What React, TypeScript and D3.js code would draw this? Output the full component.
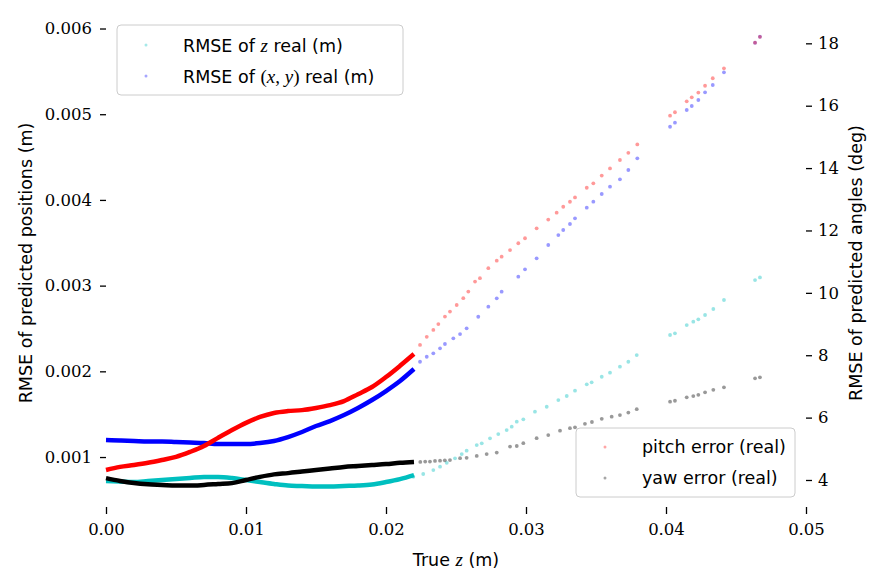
import React, { useEffect, useRef } from "react";
import * as d3 from "d3";

// dense part of the curves (x = true z in m)
const denseZ = [
  0, 0.001, 0.002, 0.003, 0.004, 0.005, 0.006, 0.007, 0.008, 0.009, 0.01, 0.011,
  0.012, 0.013, 0.014, 0.015, 0.016, 0.017, 0.018, 0.019, 0.02, 0.021, 0.022,
];
const denseZRmse = [
  0.00072, 0.000714, 0.000708, 0.00072, 0.000732, 0.000743, 0.000755, 0.000767,
  0.000767, 0.000755, 0.000732, 0.000708, 0.000685, 0.000667, 0.000662, 0.000656,
  0.000656, 0.000662, 0.000667, 0.000679, 0.000708, 0.000743, 0.00079,
];
const denseXyRmse = [
  0.001198, 0.001193, 0.001187, 0.001181, 0.001181, 0.001175, 0.001169, 0.001163,
  0.001152, 0.001152, 0.001152, 0.001163, 0.001187, 0.001233, 0.001292, 0.001362,
  0.00142, 0.00149, 0.001572, 0.001665, 0.00177, 0.001887, 0.002027,
];
const densePitch = [
  4.32, 4.42, 4.48, 4.55, 4.64, 4.74, 4.9, 5.09, 5.35, 5.6, 5.83, 6.02, 6.15, 6.21,
  6.24, 6.31, 6.4, 6.53, 6.75, 6.98, 7.3, 7.66, 8.04,
];
const denseYaw = [
  4.06, 3.97, 3.9, 3.86, 3.84, 3.82, 3.82, 3.84, 3.87, 3.9, 4.0, 4.1, 4.18, 4.22,
  4.27, 4.32, 4.37, 4.42, 4.45, 4.48, 4.51, 4.55, 4.58,
];

// sparse scatter points
const zRmseX = [
  0.02195, 0.02266, 0.02338, 0.02386, 0.02434, 0.02493, 0.02541, 0.02576, 0.02648,
  0.02684, 0.02743, 0.02802, 0.02862, 0.02898, 0.02934, 0.02981, 0.03064, 0.03148,
  0.03231, 0.03291, 0.0335, 0.03434, 0.03469, 0.03541, 0.036, 0.03671, 0.03731,
  0.03791, 0.04029, 0.04064, 0.04148, 0.04195, 0.04231, 0.04279, 0.04338, 0.04414,
  0.04636, 0.04671,
];
const zRmseY = [
  0.00077, 0.000802, 0.000848, 0.000887, 0.000933, 0.000985, 0.001035, 0.001074,
  0.00114, 0.00116, 0.001218, 0.001268, 0.001315, 0.001354, 0.001412, 0.00144,
  0.001529, 0.001587, 0.001665, 0.001712, 0.001774, 0.001848, 0.001872, 0.001937,
  0.001984, 0.002054, 0.002112, 0.00219, 0.002424, 0.002443, 0.00254, 0.002579,
  0.002607, 0.002657, 0.002727, 0.002832, 0.003065, 0.003096,
];
const xyRmseX = [
  0.02243, 0.02291, 0.02338, 0.02386, 0.02421, 0.02481, 0.02529, 0.02576, 0.02659,
  0.02731, 0.02791, 0.02826, 0.02945, 0.02993, 0.03076, 0.03159, 0.03231, 0.03266,
  0.03314, 0.0335, 0.03434, 0.03481, 0.03541, 0.036, 0.03671, 0.03731, 0.03795,
  0.04029, 0.04064, 0.04148, 0.04184, 0.04231, 0.04279, 0.04334, 0.04414, 0.04636,
  0.04671,
];
const xyRmseY = [
  0.002112, 0.00217, 0.00221, 0.002268, 0.002319, 0.002385, 0.002435, 0.002502,
  0.002637, 0.002754, 0.002852, 0.002929, 0.003104, 0.00319, 0.003319, 0.003474,
  0.00359, 0.003649, 0.003719, 0.003785, 0.003909, 0.003979, 0.004069, 0.004154,
  0.00424, 0.004349, 0.004485, 0.004854, 0.004901, 0.005049, 0.005096, 0.005166,
  0.005256, 0.005341, 0.005489, 0.005834, 0.005904,
];
const pitchX = [
  0.02243, 0.02291, 0.02338, 0.02374, 0.02421, 0.02457, 0.02505, 0.02552, 0.02588,
  0.02636, 0.02671, 0.02731, 0.02791, 0.02826, 0.02886, 0.02945, 0.02993, 0.03076,
  0.03159, 0.03219, 0.03266, 0.03314, 0.0335, 0.03434, 0.03481, 0.03541, 0.036,
  0.03671, 0.03731, 0.03795, 0.04029, 0.04064, 0.04148, 0.04184, 0.04231, 0.04279,
  0.04334, 0.04414, 0.04636, 0.04671,
];
const pitchY = [
  8.33, 8.59, 8.81, 9.0, 9.24, 9.4, 9.61, 9.83, 10.04, 10.36, 10.47, 10.79, 11.03,
  11.16, 11.37, 11.59, 11.75, 12.07, 12.35, 12.57, 12.76, 12.92, 13.06, 13.37, 13.51,
  13.76, 13.99, 14.26, 14.49, 14.76, 15.68, 15.79, 16.14, 16.27, 16.42, 16.64, 16.88,
  17.2, 18.02, 18.21,
];
const yawX = [
  0.02245, 0.0228, 0.02314, 0.0235, 0.02386, 0.0242, 0.02457, 0.02529, 0.02576,
  0.02648, 0.02719, 0.02791, 0.02886, 0.02934, 0.02981, 0.03076, 0.03159, 0.03243,
  0.03314, 0.0335, 0.03421, 0.03471, 0.03541, 0.03612, 0.03671, 0.03731, 0.03791,
  0.04029, 0.04064, 0.04148, 0.04195, 0.04231, 0.04279, 0.04338, 0.04414, 0.04636,
  0.04671,
];
const yawY = [
  4.58, 4.59, 4.59, 4.61, 4.62, 4.63, 4.64, 4.7, 4.71, 4.77, 4.83, 4.88, 5.07, 5.09,
  5.18, 5.34, 5.44, 5.58, 5.66, 5.69, 5.8, 5.86, 5.96, 6.03, 6.08, 6.16, 6.27, 6.51,
  6.54, 6.65, 6.69, 6.73, 6.81, 6.89, 6.97, 7.26, 7.29,
];

const xTicks = [0, 0.01, 0.02, 0.03, 0.04, 0.05];
const leftTicks = [0.001, 0.002, 0.003, 0.004, 0.005, 0.006];
const rightTicks = [4, 6, 8, 10, 12, 14, 16, 18];

const W = 885;
const H = 585;
const plot = { left: 106, right: 806, top: 19, bottom: 507 };
const serif = "DejaVu Serif";
const sans = "DejaVu Sans";
const mathFont = "Liberation Serif";
const labelSize = 17.5;

const CYAN = "#00bfbf";

const App: React.FC = () => {
  const xAxisRef = useRef<SVGGElement | null>(null);
  const leftAxisRef = useRef<SVGGElement | null>(null);
  const rightAxisRef = useRef<SVGGElement | null>(null);

  const x = d3.scaleLinear().domain([0, 0.05]).range([plot.left, plot.right]);
  const yLeft = d3
    .scaleLinear()
    .domain([0.000417, 0.006111])
    .range([plot.bottom, plot.top]);
  const yRight = d3
    .scaleLinear()
    .domain([3.134, 18.78])
    .range([plot.bottom, plot.top]);

  useEffect(() => {
    const style = (g: d3.Selection<SVGGElement, unknown, null, undefined>) => {
      g.select(".domain").remove();
      g.attr("font-family", serif).attr("font-size", 16.5);
      g.selectAll("text").attr("fill", "#000");
      g.selectAll("line").attr("stroke", "#000").attr("stroke-width", 1.3);
    };
    if (xAxisRef.current)
      d3.select(xAxisRef.current)
        .call(
          d3.axisBottom(x).tickValues(xTicks).tickFormat(d3.format(".2f")).tickSize(7).tickPadding(9)
        )
        .call(style);
    if (leftAxisRef.current)
      d3.select(leftAxisRef.current)
        .call(
          d3.axisLeft(yLeft).tickValues(leftTicks).tickFormat(d3.format(".3f")).tickSize(6).tickPadding(8)
        )
        .call(style);
    if (rightAxisRef.current)
      d3.select(rightAxisRef.current)
        .call(
          d3.axisRight(yRight).tickValues(rightTicks).tickFormat(d3.format("d")).tickSize(6).tickPadding(6)
        )
        .call(style);
  }, []);

  const lineL = d3
    .line<number>()
    .x((_, i) => x(denseZ[i]))
    .y((d) => yLeft(d))
    .curve(d3.curveMonotoneX);
  const lineR = d3
    .line<number>()
    .x((_, i) => x(denseZ[i]))
    .y((d) => yRight(d))
    .curve(d3.curveMonotoneX);

  const dots = (xs: number[], ys: number[], y: d3.ScaleLinear<number, number>, color: string) =>
    xs.map((v, i) => (
      <circle key={i} cx={x(v)} cy={y(ys[i])} r={1.9} fill={color} fillOpacity={0.4} />
    ));

  const cy = (plot.top + plot.bottom) / 2;

  return (
    <svg
      width={W}
      height={H}
      style={{ position: "absolute", left: 0, top: 0, background: "#fff" }}
    >
      {/* left axis series */}
      <path d={lineL(denseZRmse) || ""} fill="none" stroke={CYAN} strokeWidth={4.5} />
      <path d={lineL(denseXyRmse) || ""} fill="none" stroke="#0000ff" strokeWidth={4.5} />
      {dots(zRmseX, zRmseY, yLeft, CYAN)}
      {dots(xyRmseX, xyRmseY, yLeft, "#0000ff")}

      {/* legend of left axis */}
      <g fontFamily={sans} fontSize={labelSize}>
        <rect x={117} y={25} width={286} height={70} rx={4} fill="#fff" fillOpacity={0.8} stroke="#cccccc" />
        <circle cx={146} cy={45} r={1.5} fill={CYAN} fillOpacity={0.35} />
        <circle cx={146} cy={76} r={1.5} fill="#0000ff" fillOpacity={0.35} />
        <text x={183} y={52}>
          RMSE of <tspan fontFamily={mathFont} fontStyle="italic" fontSize={19}>z</tspan> real (m)
        </text>
        <text x={183} y={83}>
          RMSE of <tspan fontFamily={mathFont} fontSize={19}>(</tspan>
          <tspan fontFamily={mathFont} fontStyle="italic" fontSize={19}>x</tspan>
          <tspan fontFamily={mathFont} fontSize={19}>, </tspan>
          <tspan fontFamily={mathFont} fontStyle="italic" fontSize={19}>y</tspan>
          <tspan fontFamily={mathFont} fontSize={19}>)</tspan> real (m)
        </text>
      </g>

      {/* right axis series */}
      <path d={lineR(densePitch) || ""} fill="none" stroke="#ff0000" strokeWidth={4.5} />
      <path d={lineR(denseYaw) || ""} fill="none" stroke="#000" strokeWidth={4.5} />
      {dots(pitchX, pitchY, yRight, "#ff0000")}
      {dots(yawX, yawY, yRight, "#000")}

      {/* axes */}
      <g ref={xAxisRef} transform={`translate(0,${plot.bottom})`} />
      <g ref={leftAxisRef} transform={`translate(${plot.left},0)`} />
      <g ref={rightAxisRef} transform={`translate(${plot.right},0)`} />

      {/* axis titles */}
      <g fontFamily={sans} fontSize={labelSize}>
        <text x={456} y={566} textAnchor="middle">
          True <tspan fontFamily={mathFont} fontStyle="italic" fontSize={19}>z</tspan> (m)
        </text>
        <text transform={`translate(32,${cy}) rotate(-90)`} textAnchor="middle">
          RMSE of predicted positions (m)
        </text>
        <text transform={`translate(862,${cy}) rotate(-90)`} textAnchor="middle">
          RMSE of predicted angles (deg)
        </text>
      </g>

      {/* legend of right axis */}
      <g fontFamily={sans} fontSize={labelSize}>
        <rect x={576} y={428} width={219} height={69} rx={4} fill="#fff" fillOpacity={0.8} stroke="#cccccc" />
        <circle cx={605} cy={447} r={1.5} fill="#ff0000" fillOpacity={0.35} />
        <circle cx={605} cy={478} r={1.5} fill="#000" fillOpacity={0.35} />
        <text x={642} y={453}>pitch error (real)</text>
        <text x={642} y={484}>yaw error (real)</text>
      </g>
    </svg>
  );
};

export default App;
